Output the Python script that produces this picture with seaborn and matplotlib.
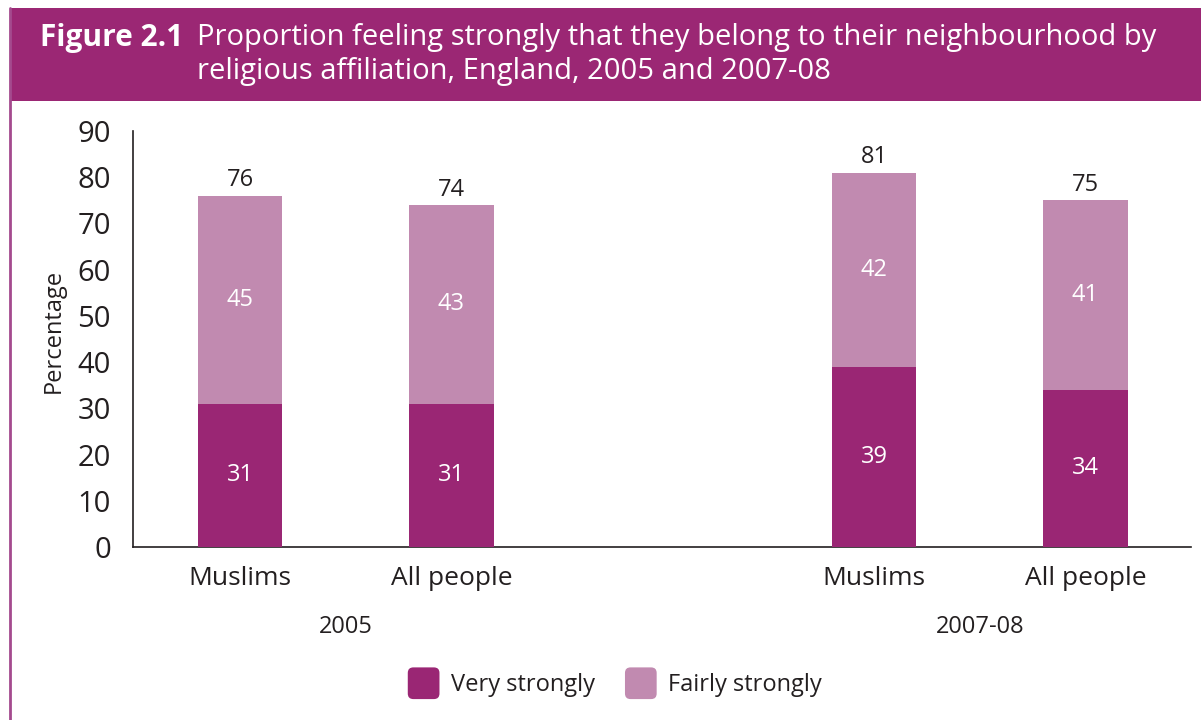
import matplotlib
matplotlib.use("Agg")
import matplotlib.pyplot as plt
import matplotlib.transforms as mtransforms
from matplotlib.patches import Rectangle, FancyBboxPatch, Patch
from matplotlib.legend_handler import HandlerPatch
import seaborn as sns
import pandas as pd

# Data
periods = ["2005", "2005", "2007-08", "2007-08"]
groups = ["Muslims", "All people", "Muslims", "All people"]
slot = [0, 1, 3, 4]
very_strongly = [31, 31, 39, 34]
fairly_strongly = [45, 43, 42, 41]
totals = [76, 74, 81, 75]
y_ticks = [0, 10, 20, 30, 40, 50, 60, 70, 80, 90]

DARK = "#9A2674"
LIGHT = "#C18AB0"
TEXT = "#231F20"
FONT = ["Open Sans", "DejaVu Sans"]

sns.set_theme(style="white")
plt.rcParams["font.family"] = FONT
plt.rcParams["text.color"] = TEXT

df = pd.DataFrame({
    "slot": slot,
    "group": groups,
    "period": periods,
    "very": very_strongly,
    "fairly": fairly_strongly,
})
df["total"] = df["very"] + df["fairly"]

W, H = 1201, 720
fig = plt.figure(figsize=(W / 100, H / 100), dpi=100)

# Header band and frame line
fig.patches.append(Rectangle((10 / W, 1 - 101 / H), 1 - 10 / W, 93 / H,
                             transform=fig.transFigure, facecolor="#9B2774",
                             edgecolor="none", zorder=0))
fig.lines.append(plt.Line2D([10 / W, 10 / W], [0, 1 - 8 / H], transform=fig.transFigure,
                            color="#A44A8E", linewidth=2.0))
fig.text(40 / W, 1 - 38 / H, "Figure 2.1", color="white", fontsize=21.5,
         fontweight="bold", va="center", ha="left")
fig.text(197 / W, 1 - 38 / H, "Proportion feeling strongly that they belong to their neighbourhood by",
         color="white", fontsize=21, va="center", ha="left")
fig.text(197 / W, 1 - 71 / H, "religious affiliation, England, 2005 and 2007-08",
         color="white", fontsize=21, va="center", ha="left")

ax = fig.add_axes([133 / W, 1 - 547 / H, (1191 - 133) / W, (547 - 131) / H])

# Stacked bars: full height in the lighter tone, lower segment in the darker tone
sns.barplot(data=df, x="slot", y="total", native_scale=True, width=0.4,
            color=LIGHT, saturation=1, ax=ax, errorbar=None, zorder=2,
            linewidth=0, edgecolor="none")
sns.barplot(data=df, x="slot", y="very", native_scale=True, width=0.4,
            color=DARK, saturation=1, ax=ax, errorbar=None, zorder=3,
            linewidth=0, edgecolor="none")

for _, r in df.iterrows():
    ax.text(r["slot"], r["very"] / 2, f"{r['very']}", ha="center", va="center",
            color="white", fontsize=17, zorder=4)
    ax.text(r["slot"], r["very"] + r["fairly"] / 2, f"{r['fairly']}", ha="center",
            va="center", color="white", fontsize=17, zorder=4)
    ax.text(r["slot"], r["total"] + 0.7, f"{r['total']}", ha="center",
            va="bottom", color=TEXT, fontsize=17, zorder=4)

ax.set_xlim(-0.507, 4.5)
ax.set_ylim(0, 90)
ax.set_yticks(y_ticks)
ax.set_yticklabels([str(v) for v in y_ticks])
ax.set_xticks(slot)
ax.set_xticklabels(groups)
ax.tick_params(axis="y", length=0, pad=16, labelsize=21, labelcolor=TEXT)
ax.tick_params(axis="x", length=0, pad=14, labelsize=19, labelcolor=TEXT)
ax.set_xlabel("")
ax.set_ylabel("Percentage", fontsize=17, color=TEXT)
ax.yaxis.set_label_coords(-67 / (1191 - 133), 0.52)

for side in ["top", "right"]:
    ax.spines[side].set_visible(False)
for side in ["left", "bottom"]:
    ax.spines[side].set_color(TEXT)
    ax.spines[side].set_linewidth(1.2)

# Period labels under each pair of bars
blend = mtransforms.blended_transform_factory(ax.transData, fig.transFigure)
period_names = list(dict.fromkeys(periods))
for p in period_names:
    xs = [s for s, q in zip(slot, periods) if q == p]
    ax.text(sum(xs) / len(xs), 1 - 627 / H, p, transform=blend, ha="center",
            va="center", fontsize=17, color=TEXT)


class RoundedHandler(HandlerPatch):
    def create_artists(self, legend, orig_handle, xdescent, ydescent, width,
                       height, fontsize, trans):
        size = height * 1.5
        p = FancyBboxPatch((-xdescent + (width - size) / 2, -ydescent + (height - size) / 2),
                           size, size, boxstyle="round,pad=0,rounding_size=4",
                           facecolor=orig_handle.get_facecolor(), edgecolor="none",
                           transform=trans)
        return [p]


handles = [Patch(facecolor=DARK, label="Very strongly"),
           Patch(facecolor=LIGHT, label="Fairly strongly")]
fig.legend(handles=handles, loc="center", bbox_to_anchor=(615 / W, 1 - 685 / H),
           ncol=2, frameon=False, fontsize=17, handlelength=1.3, handleheight=1.0,
           handletextpad=0.5, columnspacing=1.3,
           handler_map={Patch: RoundedHandler()})

fig.savefig("out.png", dpi=100)
